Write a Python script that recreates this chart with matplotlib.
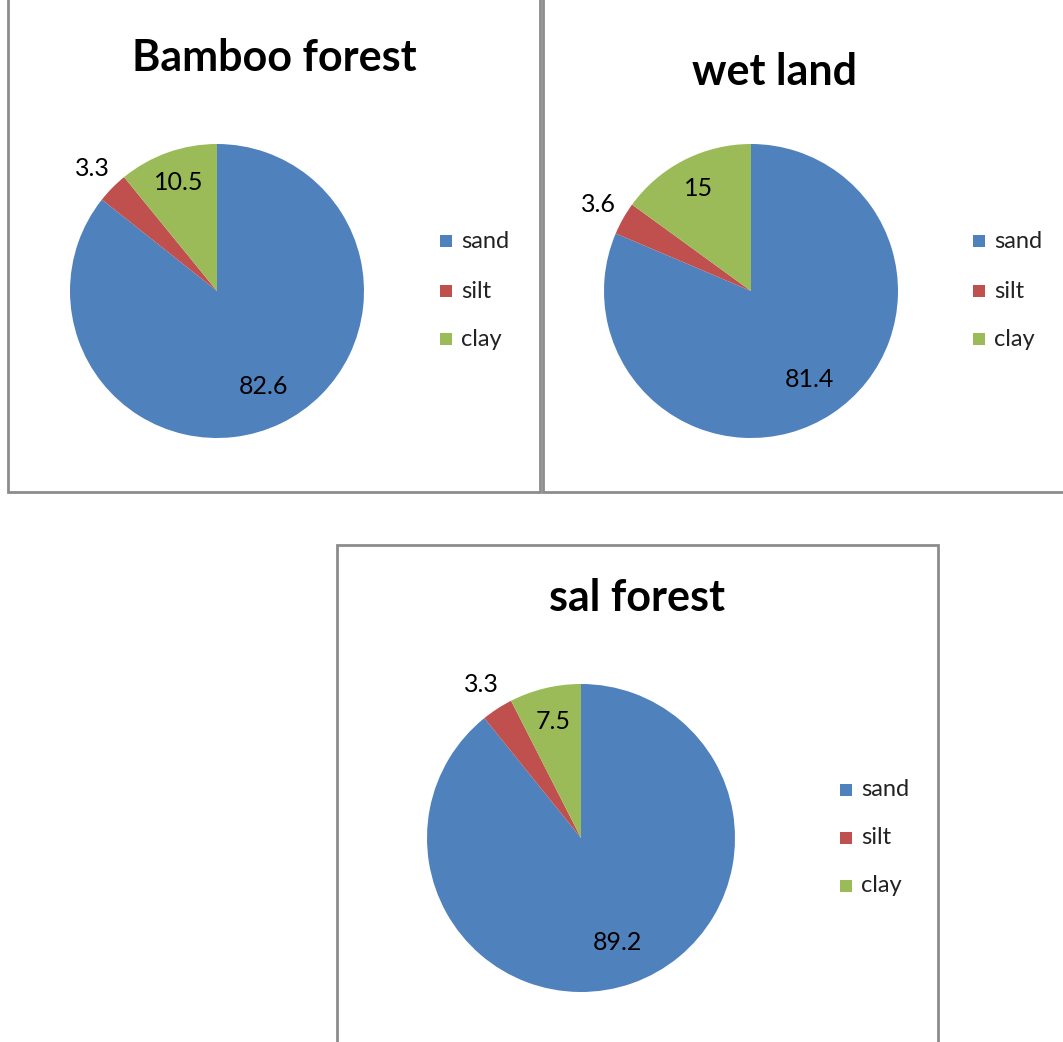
import matplotlib
matplotlib.use("Agg")
import matplotlib.pyplot as plt
from matplotlib.lines import Line2D
from matplotlib.patches import Rectangle
import numpy as np

# ---- data ----
categories = ["sand", "silt", "clay"]
titles = ["Bamboo forest", "wet land", "sal forest"]
bamboo = [82.6, 3.3, 10.5]
wetland = [81.4, 3.6, 15]
sal = [89.2, 3.3, 7.5]
value_labels = [["82.6", "3.3", "10.5"], ["81.4", "3.6", "15"], ["89.2", "3.3", "7.5"]]
colors = ["#4F81BD", "#C0504D", "#9BBB59"]

W, H = 1063, 1042
fig = plt.figure(figsize=(W / 100, H / 100), dpi=100)
plt.rcParams['font.family'] = ['Lato', 'DejaVu Sans']

def fx(x):
    return x / W

def fy(y):
    return 1 - y / H

def line(xs, ys, lw=2.0):
    fig.add_artist(Line2D([fx(x) for x in xs], [fy(y) for y in ys], color="#8c8c8c", lw=lw,
                          transform=fig.transFigure, solid_joinstyle="miter",
                          solid_capstyle="projecting"))

# panel frames
line([8, 8, 540, 540], [-5, 492, 492, -5])
line([543, 543, 1070], [-5, 492, 492])
line([337, 337, 938, 938], [1050, 545, 545, 1050])

panels = [
    dict(vals=bamboo, cx=217, cy=291, r=147, title_xy=(274, 58), leg=(446, [241, 291, 339])),
    dict(vals=wetland, cx=751, cy=291, r=147, title_xy=(775, 72), leg=(979, [241, 291, 339])),
    dict(vals=sal, cx=581, cy=838, r=154, title_xy=(637, 598), leg=(846, [790, 838, 886])),
]

for i, p in enumerate(panels):
    cx, cy, r = p["cx"], p["cy"], p["r"]
    ax = fig.add_axes([fx(cx - r), fy(cy + r), 2 * r / W, 2 * r / H])
    wedges, _ = ax.pie(p["vals"], colors=colors, startangle=90, counterclock=False,
                       radius=1.0, wedgeprops=dict(linewidth=0))
    ax.set_xlim(-1, 1); ax.set_ylim(-1, 1)
    ax.set_aspect("equal")
    ax.axis("off")
    for j, w in enumerate(wedges):
        mid = np.deg2rad((w.theta1 + w.theta2) / 2)
        frac = (w.theta2 - w.theta1) / 360
        d = 0.72 if frac > 0.5 else (0.78 if frac > 0.05 else 1.19)
        ax.text(d * np.cos(mid), d * np.sin(mid), value_labels[i][j],
                ha="center", va="center", fontsize=18, color="black", clip_on=False)
    tx, ty = p["title_xy"]
    fig.text(fx(tx), fy(ty), titles[i], ha="center", va="center",
             fontsize=31, fontweight="bold", color="black")
    lx, lys = p["leg"]
    for j, ly in enumerate(lys):
        fig.add_artist(Rectangle((fx(lx - 6), fy(ly + 6)), 12 / W, 12 / H,
                                 facecolor=colors[j], edgecolor="none",
                                 transform=fig.transFigure))
        fig.text(fx(lx + 15), fy(ly), categories[j], ha="left", va="center",
                 fontsize=17, color="#222222")

fig.savefig("out.png", dpi=100, facecolor="white")
